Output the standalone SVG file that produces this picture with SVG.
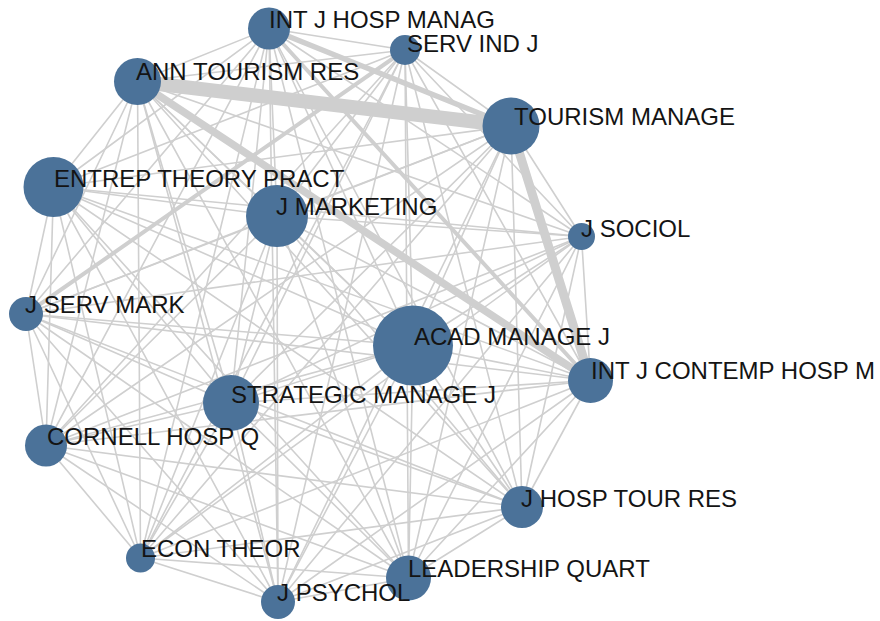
<svg xmlns="http://www.w3.org/2000/svg" width="880" height="621" viewBox="0 0 880 621">
  <style>
    .bg { fill: #ffffff; }
    .links line { stroke: #cfcfcf; stroke-linecap: round; }
    .thin { stroke-width: 1.6; }
    .w4 { stroke-width: 4; }
    .w5 { stroke-width: 5.5; }
    .w7 { stroke-width: 7.5; }
    .w8 { stroke-width: 9; }
    .w13 { stroke-width: 14; }
    .node circle { fill: #4b7299; }
    .node text { font-family: "Liberation Sans", Arial, sans-serif; font-size: 24px; fill: #141414; }
  </style>
  <rect class="bg" x="0" y="0" width="880" height="621"/>

  <!-- co-citation links -->
  <g id="links" class="links">
    <g class="thin">
      <line x1="269" y1="28.5" x2="405" y2="50"/>
      <line x1="269" y1="28.5" x2="137.5" y2="81.5"/>
      <line x1="269" y1="28.5" x2="53.5" y2="187"/>
      <line x1="269" y1="28.5" x2="277" y2="216"/>
      <line x1="269" y1="28.5" x2="581.5" y2="236.5"/>
      <line x1="269" y1="28.5" x2="26" y2="314"/>
      <line x1="269" y1="28.5" x2="413" y2="345.5"/>
      <line x1="269" y1="28.5" x2="231" y2="403"/>
      <line x1="269" y1="28.5" x2="46" y2="445.5"/>
      <line x1="269" y1="28.5" x2="522" y2="507"/>
      <line x1="269" y1="28.5" x2="140.5" y2="558"/>
      <line x1="269" y1="28.5" x2="408.5" y2="578"/>
      <line x1="269" y1="28.5" x2="278" y2="602"/>

      <line x1="405" y1="50" x2="137.5" y2="81.5"/>
      <line x1="405" y1="50" x2="511" y2="126"/>
      <line x1="405" y1="50" x2="53.5" y2="187"/>
      <line x1="405" y1="50" x2="277" y2="216"/>
      <line x1="405" y1="50" x2="581.5" y2="236.5"/>
      <line x1="405" y1="50" x2="413" y2="345.5"/>
      <line x1="405" y1="50" x2="590.5" y2="380.5"/>
      <line x1="405" y1="50" x2="231" y2="403"/>
      <line x1="405" y1="50" x2="46" y2="445.5"/>
      <line x1="405" y1="50" x2="522" y2="507"/>
      <line x1="405" y1="50" x2="140.5" y2="558"/>
      <line x1="405" y1="50" x2="408.5" y2="578"/>
      <line x1="405" y1="50" x2="278" y2="602"/>

      <line x1="137.5" y1="81.5" x2="53.5" y2="187"/>
      <line x1="137.5" y1="81.5" x2="277" y2="216"/>
      <line x1="137.5" y1="81.5" x2="581.5" y2="236.5"/>
      <line x1="137.5" y1="81.5" x2="26" y2="314"/>
      <line x1="137.5" y1="81.5" x2="413" y2="345.5"/>
      <line x1="137.5" y1="81.5" x2="231" y2="403"/>
      <line x1="137.5" y1="81.5" x2="46" y2="445.5"/>
      <line x1="137.5" y1="81.5" x2="522" y2="507"/>
      <line x1="137.5" y1="81.5" x2="140.5" y2="558"/>
      <line x1="137.5" y1="81.5" x2="408.5" y2="578"/>
      <line x1="137.5" y1="81.5" x2="278" y2="602"/>

      <line x1="511" y1="126" x2="53.5" y2="187"/>
      <line x1="511" y1="126" x2="277" y2="216"/>
      <line x1="511" y1="126" x2="581.5" y2="236.5"/>
      <line x1="511" y1="126" x2="26" y2="314"/>
      <line x1="511" y1="126" x2="413" y2="345.5"/>
      <line x1="511" y1="126" x2="231" y2="403"/>
      <line x1="511" y1="126" x2="46" y2="445.5"/>
      <line x1="511" y1="126" x2="522" y2="507"/>
      <line x1="511" y1="126" x2="140.5" y2="558"/>
      <line x1="511" y1="126" x2="408.5" y2="578"/>
      <line x1="511" y1="126" x2="278" y2="602"/>

      <line x1="53.5" y1="187" x2="277" y2="216"/>
      <line x1="53.5" y1="187" x2="581.5" y2="236.5"/>
      <line x1="53.5" y1="187" x2="26" y2="314"/>
      <line x1="53.5" y1="187" x2="413" y2="345.5"/>
      <line x1="53.5" y1="187" x2="590.5" y2="380.5"/>
      <line x1="53.5" y1="187" x2="231" y2="403"/>
      <line x1="53.5" y1="187" x2="46" y2="445.5"/>
      <line x1="53.5" y1="187" x2="522" y2="507"/>
      <line x1="53.5" y1="187" x2="140.5" y2="558"/>
      <line x1="53.5" y1="187" x2="408.5" y2="578"/>
      <line x1="53.5" y1="187" x2="278" y2="602"/>

      <line x1="277" y1="216" x2="581.5" y2="236.5"/>
      <line x1="277" y1="216" x2="26" y2="314"/>
      <line x1="277" y1="216" x2="413" y2="345.5"/>
      <line x1="277" y1="216" x2="590.5" y2="380.5"/>
      <line x1="277" y1="216" x2="231" y2="403"/>
      <line x1="277" y1="216" x2="46" y2="445.5"/>
      <line x1="277" y1="216" x2="522" y2="507"/>
      <line x1="277" y1="216" x2="140.5" y2="558"/>
      <line x1="277" y1="216" x2="408.5" y2="578"/>
      <line x1="277" y1="216" x2="278" y2="602"/>

      <line x1="581.5" y1="236.5" x2="26" y2="314"/>
      <line x1="581.5" y1="236.5" x2="413" y2="345.5"/>
      <line x1="581.5" y1="236.5" x2="590.5" y2="380.5"/>
      <line x1="581.5" y1="236.5" x2="231" y2="403"/>
      <line x1="581.5" y1="236.5" x2="46" y2="445.5"/>
      <line x1="581.5" y1="236.5" x2="522" y2="507"/>
      <line x1="581.5" y1="236.5" x2="140.5" y2="558"/>
      <line x1="581.5" y1="236.5" x2="408.5" y2="578"/>
      <line x1="581.5" y1="236.5" x2="278" y2="602"/>

      <line x1="26" y1="314" x2="413" y2="345.5"/>
      <line x1="26" y1="314" x2="590.5" y2="380.5"/>
      <line x1="26" y1="314" x2="231" y2="403"/>
      <line x1="26" y1="314" x2="46" y2="445.5"/>
      <line x1="26" y1="314" x2="522" y2="507"/>
      <line x1="26" y1="314" x2="140.5" y2="558"/>
      <line x1="26" y1="314" x2="408.5" y2="578"/>
      <line x1="26" y1="314" x2="278" y2="602"/>

      <line x1="413" y1="345.5" x2="590.5" y2="380.5"/>
      <line x1="413" y1="345.5" x2="231" y2="403"/>
      <line x1="413" y1="345.5" x2="46" y2="445.5"/>
      <line x1="413" y1="345.5" x2="522" y2="507"/>
      <line x1="413" y1="345.5" x2="140.5" y2="558"/>
      <line x1="413" y1="345.5" x2="408.5" y2="578"/>
      <line x1="413" y1="345.5" x2="278" y2="602"/>

      <line x1="590.5" y1="380.5" x2="231" y2="403"/>
      <line x1="590.5" y1="380.5" x2="46" y2="445.5"/>
      <line x1="590.5" y1="380.5" x2="522" y2="507"/>
      <line x1="590.5" y1="380.5" x2="140.5" y2="558"/>
      <line x1="590.5" y1="380.5" x2="408.5" y2="578"/>
      <line x1="590.5" y1="380.5" x2="278" y2="602"/>

      <line x1="231" y1="403" x2="46" y2="445.5"/>
      <line x1="231" y1="403" x2="522" y2="507"/>
      <line x1="231" y1="403" x2="140.5" y2="558"/>
      <line x1="231" y1="403" x2="408.5" y2="578"/>
      <line x1="231" y1="403" x2="278" y2="602"/>

      <line x1="46" y1="445.5" x2="522" y2="507"/>
      <line x1="46" y1="445.5" x2="140.5" y2="558"/>
      <line x1="46" y1="445.5" x2="408.5" y2="578"/>
      <line x1="46" y1="445.5" x2="278" y2="602"/>

      <line x1="522" y1="507" x2="140.5" y2="558"/>
      <line x1="522" y1="507" x2="408.5" y2="578"/>
      <line x1="522" y1="507" x2="278" y2="602"/>

      <line x1="140.5" y1="558" x2="408.5" y2="578"/>
      <line x1="140.5" y1="558" x2="278" y2="602"/>

      <line x1="408.5" y1="578" x2="278" y2="602"/>
    </g>
    <!-- heavier links -->
    <line class="w4" x1="405" y1="50" x2="26" y2="314"/>
    <line class="w4" x1="269" y1="28.5" x2="590.5" y2="380.5"/>
    <line class="w5" x1="269" y1="28.5" x2="511" y2="126"/>
    <line class="w7" x1="137.5" y1="81.5" x2="590.5" y2="380.5"/>
    <line class="w8" x1="511" y1="126" x2="590.5" y2="380.5"/>
    <line class="w13" x1="137.5" y1="81.5" x2="511" y2="126"/>
  </g>

  <!-- journals -->
  <g id="n-int-j-hosp-manag" class="node">
    <circle cx="269" cy="28.5" r="21"/>
    <text x="269" y="28">INT J HOSP MANAG</text>
  </g>
  <g id="n-serv-ind-j" class="node">
    <circle cx="405" cy="50" r="15"/>
    <text x="407" y="52">SERV IND J</text>
  </g>
  <g id="n-ann-tourism-res" class="node">
    <circle cx="137.5" cy="81.5" r="23.5"/>
    <text x="136" y="80">ANN TOURISM RES</text>
  </g>
  <g id="n-tourism-manage" class="node">
    <circle cx="511" cy="126" r="28.5"/>
    <text x="514" y="125">TOURISM MANAGE</text>
  </g>
  <g id="n-j-marketing" class="node">
    <circle cx="277" cy="216" r="31"/>
    <text x="276" y="215">J MARKETING</text>
  </g>
  <g id="n-entrep-theory-pract" class="node">
    <circle cx="53.5" cy="187" r="30"/>
    <text x="54" y="187">ENTREP THEORY PRACT</text>
  </g>
  <g id="n-j-sociol" class="node">
    <circle cx="581.5" cy="236.5" r="13.5"/>
    <text x="581" y="237">J SOCIOL</text>
  </g>
  <g id="n-j-serv-mark" class="node">
    <circle cx="26" cy="314" r="17"/>
    <text x="25" y="313">J SERV MARK</text>
  </g>
  <g id="n-acad-manage-j" class="node">
    <circle cx="413" cy="345.5" r="40"/>
    <text x="414" y="345">ACAD MANAGE J</text>
  </g>
  <g id="n-int-j-contemp-hosp-m" class="node">
    <circle cx="590.5" cy="380.5" r="22.5"/>
    <text x="591" y="379">INT J CONTEMP HOSP M</text>
  </g>
  <g id="n-strategic-manage-j" class="node">
    <circle cx="231" cy="403" r="28"/>
    <text x="231" y="403">STRATEGIC MANAGE J</text>
  </g>
  <g id="n-cornell-hosp-q" class="node">
    <circle cx="46" cy="445.5" r="21"/>
    <text x="47" y="445">CORNELL HOSP Q</text>
  </g>
  <g id="n-j-hosp-tour-res" class="node">
    <circle cx="522" cy="507" r="21"/>
    <text x="521" y="507">J HOSP TOUR RES</text>
  </g>
  <g id="n-econ-theor" class="node">
    <circle cx="140.5" cy="558" r="14.5"/>
    <text x="141" y="557">ECON THEOR</text>
  </g>
  <g id="n-leadership-quart" class="node">
    <circle cx="408.5" cy="578" r="22.5"/>
    <text x="408" y="577">LEADERSHIP QUART</text>
  </g>
  <g id="n-j-psychol" class="node">
    <circle cx="278" cy="602" r="17"/>
    <text x="277" y="601">J PSYCHOL</text>
  </g>
</svg>
